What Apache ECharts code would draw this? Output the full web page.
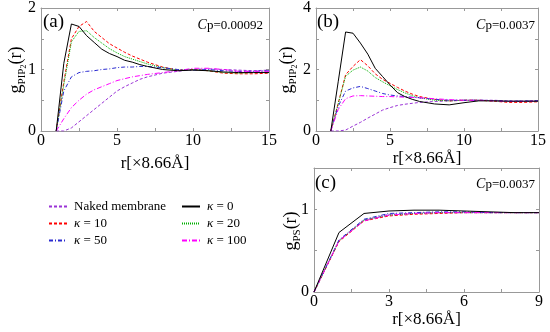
<!DOCTYPE html>
<html><head><meta charset="utf-8">
<script src="https://cdn.jsdelivr.net/npm/echarts@6/dist/echarts.min.js"></script>
<style>html,body{margin:0;padding:0;background:#fff}#c{width:550px;height:332px}</style>
</head><body><div id="c"></div>
<script>
// ---------- data ----------
const rAB = [1,1.5,2,2.5,3,3.5,4,4.5,5,5.5,6,6.5,7,8,9,10,11,12,13,14,15];
// panel (a) Cp = 0.00092
const aNaked = [0,0.0,0.05,0.15,0.25,0.35,0.45,0.55,0.65,0.72,0.78,0.84,0.88,0.94,0.97,1.0,1.01,1.0,0.99,0.98,0.99];
const aK0    = [0,1.1,1.74,1.70,1.55,1.44,1.33,1.26,1.21,1.15,1.12,1.08,1.05,1.0,0.98,0.99,0.98,0.96,0.95,0.95,0.95];
const aK10   = [0,0.8,1.5,1.7,1.78,1.62,1.52,1.42,1.35,1.28,1.22,1.17,1.12,1.04,0.99,1.0,0.98,0.94,0.93,0.93,0.94];
const aK20   = [0,0.75,1.45,1.62,1.63,1.52,1.43,1.34,1.27,1.21,1.17,1.13,1.09,1.03,0.99,1.0,0.98,0.95,0.94,0.95,0.96];
const aK50   = [0,0.65,0.88,0.95,0.97,0.98,1.0,1.01,1.03,1.04,1.04,1.05,1.05,1.03,1.0,0.99,1.0,0.98,0.97,0.97,0.98];
const aK100  = [0,0.2,0.38,0.5,0.6,0.67,0.72,0.77,0.82,0.85,0.88,0.9,0.92,0.95,0.98,1.02,1.02,1.0,0.97,0.97,0.97];
// panel (b) Cp = 0.0037
const bNaked = [0,0,0.03,0.16,0.28,0.42,0.55,0.68,0.76,0.83,0.87,0.9,0.93,0.96,0.98,1.0,1.0,1.0,0.98,0.98,0.99];
const bK0    = [0,1.6,3.22,3.18,2.86,2.5,2.04,1.77,1.5,1.25,1.12,1.03,0.96,0.88,0.85,0.92,0.98,0.98,0.97,0.97,0.97];
const bK10   = [0,0.9,1.83,2.1,2.32,2.12,1.86,1.68,1.55,1.42,1.3,1.2,1.12,1.03,0.98,1.0,1.0,0.97,0.93,0.93,0.95];
const bK20   = [0,0.88,1.78,1.98,2.08,1.95,1.74,1.6,1.47,1.35,1.24,1.15,1.08,1.0,0.98,1.0,1.0,0.98,0.96,0.96,0.97];
const bK50   = [0,0.8,1.3,1.4,1.45,1.38,1.3,1.22,1.17,1.14,1.12,1.1,1.08,1.03,1.0,1.0,1.0,0.99,0.97,0.97,0.98];
const bK100  = [0,0.7,1.05,1.14,1.15,1.14,1.13,1.12,1.12,1.11,1.1,1.09,1.08,1.05,1.02,1.0,1.0,0.98,0.96,0.96,0.97];
// panel (c) g_PS, Cp = 0.0037
const rC = [0,1,2,3,4,5,6,7,8,9];
const cNaked = [0,0.62,0.87,0.94,0.95,0.96,0.96,0.96,0.96,0.96];
const cK0    = [0,0.72,0.95,0.98,0.99,0.99,0.98,0.97,0.96,0.96];
const cK10   = [0,0.61,0.86,0.92,0.94,0.95,0.96,0.96,0.96,0.96];
const cK20   = [0,0.62,0.87,0.93,0.95,0.96,0.96,0.96,0.96,0.96];
const cK50   = [0,0.63,0.88,0.95,0.96,0.97,0.97,0.96,0.96,0.96];
const cK100  = [0,0.62,0.86,0.93,0.95,0.96,0.96,0.96,0.96,0.96];

const names = ['Naked membrane','κ = 0','κ = 10','κ = 20','κ = 50','κ = 100'];
const xTicksAB = [0,5,10,15];
const xTicksC = [0,3,6,9];

// ---------- styles ----------
const SERIF = 'Times New Roman, Liberation Serif, Times, serif';
const styles = [
  {color:'#9a33d6', type:[3,2]},
  {color:'#000000', type:'solid'},
  {color:'#ff0000', type:[3,2]},
  {color:'#00b000', type:[1,1]},
  {color:'#2a2ad0', type:[4,2,1,2]},
  {color:'#ff00ff', type:[5,2,1,2]}
];
const zip = (xs, ys) => xs.map((x,i)=>[x, ys[i]]);
const panels = [
  {xs:rAB, ys:[aNaked,aK0,aK10,aK20,aK50,aK100]},
  {xs:rAB, ys:[bNaked,bK0,bK10,bK20,bK50,bK100]},
  {xs:rC,  ys:[cNaked,cK0,cK10,cK20,cK50,cK100]}
];

const grids = [
  {left:41, top:8, width:228, height:123},
  {left:316, top:8, width:222, height:123},
  {left:314, top:168, width:225, height:124}
];
const frameColor = '#999999';
function mkX(gi, max, step, pos, labels, nameGap){
  return {
    gridIndex:gi, type:'value', min:0, max:max, interval:step, position:pos,
    axisLine:{show:true, onZero:false, lineStyle:{color:frameColor, width:1}},
    axisTick:{show:true, inside:true, length:3, lineStyle:{color:frameColor}},
    splitLine:{show:false},
    axisLabel:{show:labels.length>0, color:'#000', fontFamily:SERIF, fontSize:16, margin:2,
      formatter:v=> labels.indexOf(v)>=0 ? String(v) : ''},
    name: pos==='bottom' ? 'r[×8.66Å]' : '', nameLocation:'middle', nameGap:nameGap,
    nameTextStyle:{color:'#000', fontFamily:SERIF, fontSize:17}
  };
}
function mkY(gi, max, step, labels, pos){
  return {
    gridIndex:gi, type:'value', min:0, max:max, interval:step, position:pos,
    axisLine:{show:true, onZero:false, lineStyle:{color:frameColor, width:1}},
    axisTick:{show:true, inside:true, length:3, lineStyle:{color:frameColor}},
    splitLine:{show:false},
    axisLabel:{show:pos==='left', color:'#000', fontFamily:SERIF, fontSize:16, margin:5,
      formatter:v=> labels.indexOf(v)>=0 ? String(v) : ''}
  };
}
const xAxis = [
  mkX(0,15,2.5,'bottom',xTicksAB,24), mkX(0,15,2.5,'top',[],0),
  mkX(1,15,2.5,'bottom',xTicksAB,13), mkX(1,15,2.5,'top',[],0),
  mkX(2,9,1.5,'bottom',xTicksC,14),  mkX(2,9,1.5,'top',[],0)
];
const yAxis = [
  mkY(0,2,0.5,[0,1,2],'left'), mkY(0,2,0.5,[],'right'),
  mkY(1,4,1,[0,2,4],'left'), mkY(1,4,1,[],'right'),
  mkY(2,1.5,0.5,[0,1],'left'), mkY(2,1.5,0.5,[],'right')
];
const series = [];
panels.forEach((p,pi)=>{
  p.ys.forEach((ys,si)=>{
    series.push({
      name:names[si], type:'line', xAxisIndex:pi*2, yAxisIndex:pi*2,
      data:zip(p.xs, ys), symbol:'none', showSymbol:false, animation:false,
      z: si===1 ? 5 : 3,
      lineStyle:{color:styles[si].color, width:1, type:styles[si].type},
      itemStyle:{color:styles[si].color}
    });
  });
});
const legendCommon = {
  orient:'vertical', itemWidth:18, itemHeight:10, itemGap:4, selectedMode:false,
  itemStyle:{opacity:0},
  textStyle:{color:'#000', fontFamily:SERIF, fontSize:13, padding:[0,0,0,2],
    rich:{i:{fontFamily:SERIF, fontSize:13, fontStyle:'italic', color:'#000'}}},
  formatter: n => n.startsWith('κ') ? '{i|κ}' + n.slice(1) : n
};
const yName = (sub, sub2) =>
  '{g|g}{s|' + sub + '}' + (sub2 ? '{ss|' + sub2 + '}' : '') + '{g|(r)}';
const yRich = {
  g:{fontFamily:SERIF, fontSize:18, lineHeight:24, verticalAlign:'middle', fill:'#000'},
  s:{fontFamily:SERIF, fontSize:11, lineHeight:12, verticalAlign:'bottom', fill:'#000'},
  ss:{fontFamily:SERIF, fontSize:8, lineHeight:9, verticalAlign:'bottom', fill:'#000'}
};
function txt(x,y,text,size){
  return {type:'text', x:x, y:y, silent:true,
    style:{text:text, fontFamily:SERIF, fontSize:size, fill:'#000', align:'left', verticalAlign:'middle'}};
}
function cp(x,y,val){
  return {type:'text', x:x, y:y, silent:true, style:{
    text:'{c|C}{p|p=' + val + '}', align:'right', verticalAlign:'middle',
    rich:{c:{fontFamily:SERIF, fontSize:14, fontStyle:'italic', fill:'#000'},
          p:{fontFamily:SERIF, fontSize:13, fill:'#000', padding:[2,0,0,0]}}}};
}
function yLab(x,y,sub,sub2){
  return {type:'text', x:x, y:y, rotation:Math.PI/2, silent:true, style:{
    text:yName(sub,sub2), align:'center', verticalAlign:'middle', rich:yRich}};
}
const option = {
  backgroundColor:'#fff', animation:false,
  grid:grids, xAxis:xAxis, yAxis:yAxis, series:series,
  legend:[
    Object.assign({left:43, top:195, data:[names[0],names[2],names[4]]}, legendCommon),
    Object.assign({left:176, top:195, data:[names[1],names[3],names[5]]}, legendCommon)
  ],
  graphic:[
    txt(43,22,'(a)',19), txt(317,22,'(b)',19), txt(315,183,'(c)',19),
    cp(263,25,'0.00092'), cp(535,25,'0.0037'), cp(535,184,'0.0037'),
    yLab(16,70,'PIP','2'), yLab(287,70,'PIP','2'), yLab(291,231,'PS','')
  ]
};
const chart = echarts.init(document.getElementById('c'), null, {renderer:'canvas'});
chart.setOption(option);
</script></body></html>
